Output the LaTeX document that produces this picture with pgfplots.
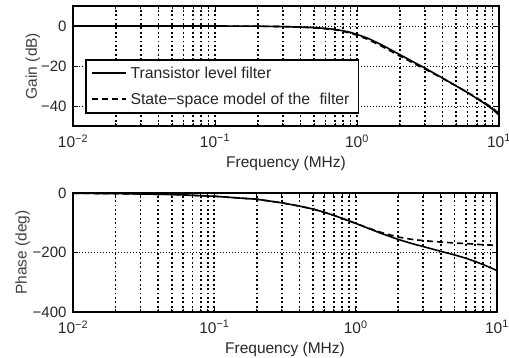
\documentclass[border=0pt]{standalone}
\usepackage{fontspec}
\setmainfont{Liberation Sans}
\usepackage{pgfplots}
\pgfplotsset{compat=1.18}
\begin{document}
\begin{tikzpicture}
\pgfplotsset{
  every axis/.append style={
    font=\fontsize{15.5}{18}\selectfont,
    scale only axis,
    width=426pt,
    xmode=log,
    xmin=0.01, xmax=10,
    axis line style={line width=1.6pt},
    tick style={black, line width=0.8pt},
    tick align=inside,
    major tick length=5pt,
    minor tick length=3pt,
    xtick={0.01,0.1,1,10},
    xticklabels={10\textsuperscript{−2},10\textsuperscript{−1},10\textsuperscript{0},10\textsuperscript{1}},
    minor xtick={0.02,0.03,0.04,0.05,0.06,0.07,0.08,0.09,0.2,0.3,0.4,0.5,0.6,0.7,0.8,0.9,2,3,4,5,6,7,8,9},
    xmajorgrids, xminorgrids, ymajorgrids,
    major grid style={black, line width=1.8pt, dash pattern=on 1.8pt off 2.6pt},
    minor grid style={black, line width=1.8pt, dash pattern=on 1.8pt off 2.6pt},
    every axis y grid/.append style={line width=0.8pt, dash pattern=on 1pt off 2pt},
    xlabel={Frequency (MHz)},
    xlabel style={text=black!85, yshift=-2pt},
    ylabel style={text=black!75, yshift=-6pt},
    tick label style={text=black!85},
    xticklabel style={yshift=-5pt},
    yticklabel style={xshift=-3pt, font=\fontsize{15}{18}\selectfont},
  }
}
\begin{axis}[
  name=top,
  at={(0,0)}, anchor=south west,
  height=120pt,
  ymin=-50, ymax=10,
  ytick={0,-20,-40},
  yticklabels={0,−20,−40},
  ylabel={Gain (dB)},
  legend style={at={(0.028,0.558)}, anchor=north west, draw=black, line width=1.6pt, fill=white,
    font=\fontsize{15.8}{18}\selectfont, row sep=9pt, inner xsep=5pt, inner ysep=5pt,
    nodes={text=black!85, inner xsep=4pt}},
  legend cell align=left,
  legend image code/.code={\draw[#1, line width=1.8pt] (0pt,0pt) -- (34pt,0pt);},
]
\addplot[black, line width=1.6pt] coordinates {
(0.01,0) (0.05,0) (0.1,0) (0.2,-0.1) (0.3,-0.3) (0.4,-0.5) (0.5,-0.8) (0.6,-1.2) (0.7,-1.7) (0.8,-2.4) (0.9,-3.2) (1,-4.2) (1.2,-6.2) (1.5,-9.5) (2,-14.3) (2.5,-18) (3,-21) (4,-26) (5,-30) (6,-33.3) (7,-36.3) (8,-39) (9,-41.6) (10,-44.5)
};
\addlegendentry{Transistor level filter}
\addplot[black, line width=1.6pt, dash pattern=on 6pt off 4pt] coordinates {
(0.01,0) (0.05,0) (0.1,0) (0.2,-0.1) (0.3,-0.3) (0.4,-0.6) (0.5,-0.9) (0.6,-1.4) (0.7,-1.9) (0.8,-2.7) (0.9,-3.6) (1,-4.6) (1.2,-6.8) (1.5,-10.2) (2,-15) (2.5,-18.6) (3,-21.5) (4,-26.2) (5,-30) (6,-33.2) (7,-36) (8,-38.6) (9,-41) (10,-43.8)
};
\addlegendentry{State−space model of the\hspace{0.6em}filter}
\end{axis}
\begin{axis}[
  at={(0,-67pt)}, anchor=north west,
  width=424pt,
  height=119pt,
  ymin=-400, ymax=0,
  ytick={0,-200,-400},
  yticklabels={0,−200,−400},
  ylabel={Phase (deg)},
  ylabel style={yshift=2pt},
]
\addplot[black, line width=1.6pt] coordinates {
(0.01,-1) (0.02,-2) (0.05,-5) (0.1,-11) (0.2,-21) (0.3,-33) (0.4,-44) (0.5,-54) (0.6,-65) (0.7,-75) (0.8,-85) (0.9,-94) (1,-102) (1.2,-117) (1.5,-135) (2,-156) (2.5,-170) (3,-180) (4,-196) (5,-208) (6,-219) (7,-230) (8,-241) (9,-251) (10,-261)
};
\addplot[black, line width=1.6pt, dash pattern=on 6pt off 4pt] coordinates {
(0.01,-1) (0.02,-2) (0.05,-5) (0.1,-11) (0.2,-21) (0.3,-33) (0.4,-44) (0.5,-54) (0.6,-65) (0.7,-75) (0.8,-85) (0.9,-94) (1,-102) (1.2,-116) (1.5,-132) (2,-148) (2.5,-156) (3,-160) (4,-165) (5,-168) (6,-170) (7,-172) (8,-174) (9,-175) (10,-177)
};
\end{axis}
\pgfresetboundingbox
\path[use as bounding box] (-73pt,-232pt) rectangle (436pt,126pt);
\end{tikzpicture}
\end{document}
